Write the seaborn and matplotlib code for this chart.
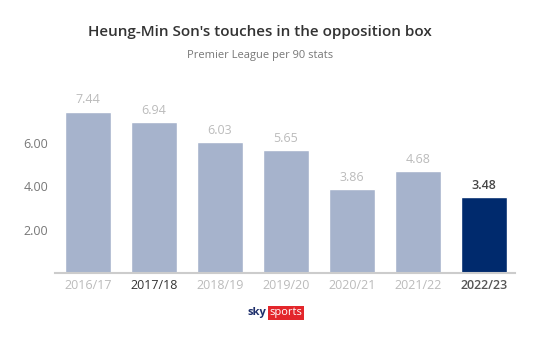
import matplotlib
matplotlib.use("Agg")
import matplotlib.pyplot as plt
import seaborn as sns
import pandas as pd

seasons = ["2016/17", "2017/18", "2018/19", "2019/20", "2020/21", "2021/22", "2022/23"]
touches = [7.44, 6.94, 6.03, 5.65, 3.86, 4.68, 3.48]
yticks = [2, 4, 6]
ytick_labels = ["2.00", "4.00", "6.00"]

sns.set_theme(style="white")
plt.rcParams['font.family'] = ['Open Sans', 'DejaVu Sans']

light = "#a6b3cc"
dark = "#002a6d"
colors = [light] * 6 + [dark]

df = pd.DataFrame({"season": seasons, "touches": touches})

fig = plt.figure(figsize=(5.42, 3.39), dpi=100)
ax = fig.add_axes([0.1015, 0.1947, 0.8485, 0.512])
sns.barplot(data=df, x="season", y="touches", hue="season", palette=colors,
            legend=False, width=0.7, ax=ax, saturation=1)

ax.set_xlim(-0.5, 6.47)
ax.set_ylim(0, 8)
ax.set_yticks(yticks)
ax.set_yticklabels(ytick_labels)
ax.set_xlabel("")
ax.set_ylabel("")
for s in ["top", "right", "left"]:
    ax.spines[s].set_visible(False)
ax.spines["bottom"].set_color("#cccccc")
ax.spines["bottom"].set_linewidth(1.5)
ax.tick_params(axis="both", length=0, labelsize=9)
ax.tick_params(axis="y", pad=5, labelcolor="#777777")
ax.tick_params(axis="x", pad=4)

for i, lbl in enumerate(ax.get_xticklabels()):
    if i == 1:
        lbl.set_color("#333333")
    elif i == 6:
        lbl.set_color("#555555")
        lbl.set_fontweight("semibold")
    else:
        lbl.set_color("#bbbbbb")

for i, v in enumerate(touches):
    if i == 6:
        ax.text(i, v + 0.25, f"{v:.2f}", ha="center", va="bottom", fontsize=9,
                color="#444444", fontweight="semibold")
    else:
        ax.text(i, v + 0.25, f"{v:.2f}", ha="center", va="bottom", fontsize=9,
                color="#bbbbbb")

fig.text(0.48, 0.905, "Heung-Min Son's touches in the opposition box", ha="center",
         va="center", fontsize=11, color="#333333", fontweight="semibold")
fig.text(0.48, 0.835, "Premier League per 90 stats", ha="center", va="center",
         fontsize=8, color="#777777")

fig.text(0.491, 0.077, "sky", ha="right", va="center", fontsize=8, color="#1e2f6b",
         fontweight="bold")
fig.text(0.497, 0.077, "sports", ha="left", va="center", fontsize=8, color="white",
         bbox=dict(boxstyle="square,pad=0.12", fc="#e3262b", ec="none"))

fig.savefig("out.png", dpi=100)
